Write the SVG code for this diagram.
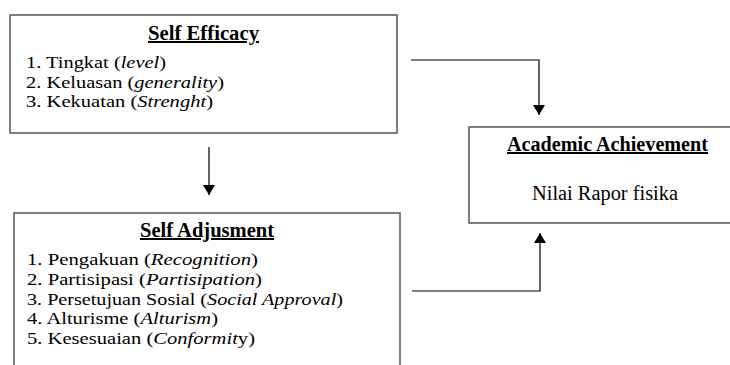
<svg xmlns="http://www.w3.org/2000/svg" width="730" height="365" viewBox="0 0 730 365">
<style>
.box{fill:#fff;stroke:#555;stroke-width:1.5}
.t{font-family:"Liberation Serif","Times New Roman",serif;font-size:17.6px;fill:#000}
.h{font-size:20px;font-weight:bold;text-decoration:underline;text-anchor:middle}
.n{font-size:20px;text-anchor:middle}
.i{font-style:italic}
.c{fill:none;stroke:#000;stroke-width:1.2}
</style>
<defs>
<marker id="ah" viewBox="0 0 10 12" refX="10" refY="6" markerWidth="10" markerHeight="12" markerUnits="userSpaceOnUse" orient="auto">
<path d="M0,0 L10,6 L0,12 Z" fill="#000"/>
</marker>
</defs>
<rect width="730" height="365" fill="#fff"/>
<g id="connectors">
<path class="c" d="M209,147 V195" marker-end="url(#ah)"/>
<path class="c" d="M411,60 H539 V115" marker-end="url(#ah)"/>
<path class="c" d="M412,291 H540 V233" marker-end="url(#ah)"/>
</g>
<g id="self-efficacy">
<rect class="box" x="10" y="15" width="387" height="118"/>
<text class="t h" x="203.5" y="40" textLength="111" lengthAdjust="spacingAndGlyphs">Self Efficacy</text>
<text class="t" x="26" y="68" textLength="140" lengthAdjust="spacingAndGlyphs">1. Tingkat (<tspan class="i">level</tspan>)</text>
<text class="t" x="26" y="87.5" textLength="198" lengthAdjust="spacingAndGlyphs">2. Keluasan (<tspan class="i">generality</tspan>)</text>
<text class="t" x="26" y="107" textLength="187" lengthAdjust="spacingAndGlyphs">3. Kekuatan (<tspan class="i">Strenght</tspan>)</text>
</g>
<g id="self-adjusment">
<rect class="box" x="14" y="213" width="386" height="170"/>
<text class="t h" x="207" y="237" textLength="134" lengthAdjust="spacingAndGlyphs">Self Adjusment</text>
<text class="t" x="27" y="265" textLength="231" lengthAdjust="spacingAndGlyphs">1. Pengakuan (<tspan class="i">Recognition</tspan>)</text>
<text class="t" x="27" y="285" textLength="235" lengthAdjust="spacingAndGlyphs">2. Partisipasi (<tspan class="i">Partisipation</tspan>)</text>
<text class="t" x="27" y="304.5" textLength="316" lengthAdjust="spacingAndGlyphs">3. Persetujuan Sosial (<tspan class="i">Social Approval</tspan>)</text>
<text class="t" x="27" y="324" textLength="191" lengthAdjust="spacingAndGlyphs">4. Alturisme (<tspan class="i">Alturism</tspan>)</text>
<text class="t" x="27" y="343.5" textLength="228" lengthAdjust="spacingAndGlyphs">5. Kesesuaian (<tspan class="i">Conformit</tspan>y)</text>
</g>
<g id="academic-achievement">
<rect class="box" x="469" y="127" width="274" height="96"/>
<text class="t h" x="607.5" y="151" textLength="201" lengthAdjust="spacingAndGlyphs">Academic Achievement</text>
<text class="t n" x="605" y="200" textLength="146" lengthAdjust="spacingAndGlyphs">Nilai Rapor fisika</text>
</g>
</svg>
